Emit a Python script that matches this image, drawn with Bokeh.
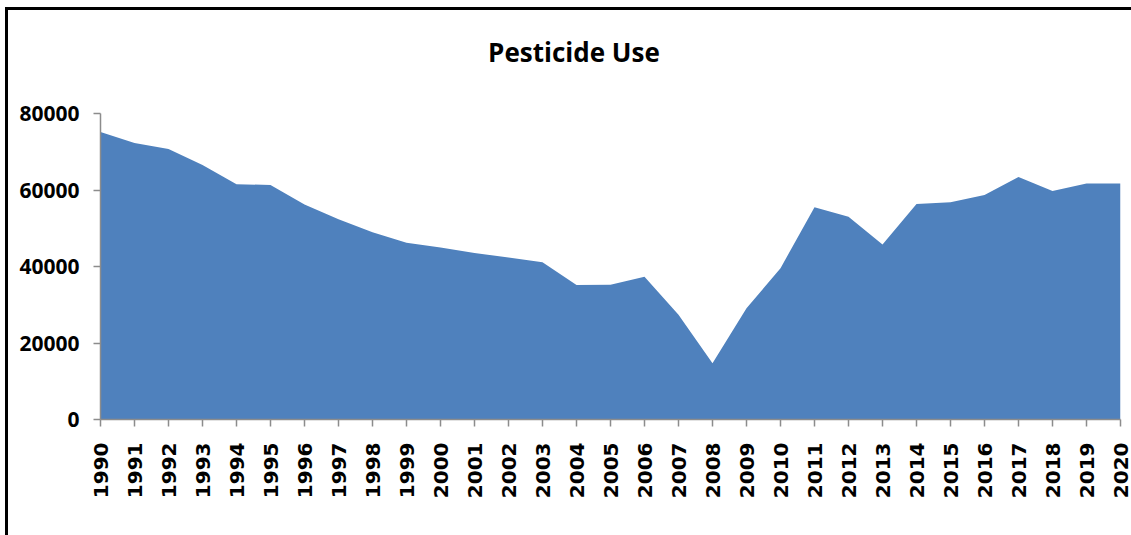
import math
from bokeh.plotting import figure
from bokeh.models import FixedTicker, Range1d, Label
from bokeh.embed import file_html
from bokeh.resources import INLINE

years = list(range(1990, 2021))
pesticide_use = [75300, 72400, 70800, 66600, 61600, 61400, 56300, 52400, 49000, 46300,
                 45000, 43600, 42400, 41200, 35200, 35300, 37400, 27400, 14700, 29100,
                 39600, 55600, 53100, 45800, 56400, 56900, 58800, 63500, 59800, 61800,
                 61800]
y_ticks = [0, 20000, 40000, 60000, 80000]
title_text = "Pesticide Use"

# pixel layout: axis max (80000) at y=115px, zero at y=419px, frame top at ~32px
y_max = 80000
y_top = y_max * (419 - 32) / (419 - 115)

p = figure(width=1123, height=525, output_backend="svg", toolbar_location=None,
           x_range=Range1d(1990, 2020), y_range=Range1d(0, y_top),
           min_border_left=92, min_border_right=14, min_border_top=20,
           min_border_bottom=119)
p.styles = {"border-left": "3px solid black", "border-top": "3px solid black",
            "margin-left": "5px", "margin-top": "7px", "box-sizing": "content-box"}
p.outline_line_color = None
p.grid.visible = False
p.background_fill_color = "white"
p.border_fill_color = "white"

p.varea(x=years, y1=0, y2=pesticide_use, fill_color="#4F81BD")

for ax in (p.xaxis[0], p.yaxis[0]):
    ax.axis_line_color = "#8C8C8C"
    ax.axis_line_width = 1.5
    ax.major_tick_line_color = "#8C8C8C"
    ax.major_tick_line_width = 1.5
    ax.minor_tick_line_color = None
    ax.major_tick_in = 0
    ax.major_tick_out = 7
    ax.major_label_text_color = "black"
    ax.major_label_text_font_style = "bold"

p.yaxis.ticker = FixedTicker(ticks=y_ticks)
p.yaxis.bounds = (0, y_max)
p.yaxis.major_label_text_font = "Open Sans"
p.yaxis.major_label_text_font_size = "21px"
p.yaxis.major_label_standoff = 14

p.xaxis.ticker = FixedTicker(ticks=years)
p.xaxis.major_label_orientation = math.pi / 2
p.xaxis.major_label_text_font = "DejaVu Sans"
p.xaxis.major_label_text_font_size = "20px"
p.xaxis.major_label_standoff = 16

title_y = y_max * (419 - 53) / (419 - 115)
title = Label(x=2001.4, y=title_y, text=title_text, text_align="left",
              text_baseline="alphabetic", text_font="Open Sans",
              text_font_size="26px", text_font_style="bold", text_color="black")
p.add_layout(title)

open("out.html", "w").write(file_html(p, INLINE))
